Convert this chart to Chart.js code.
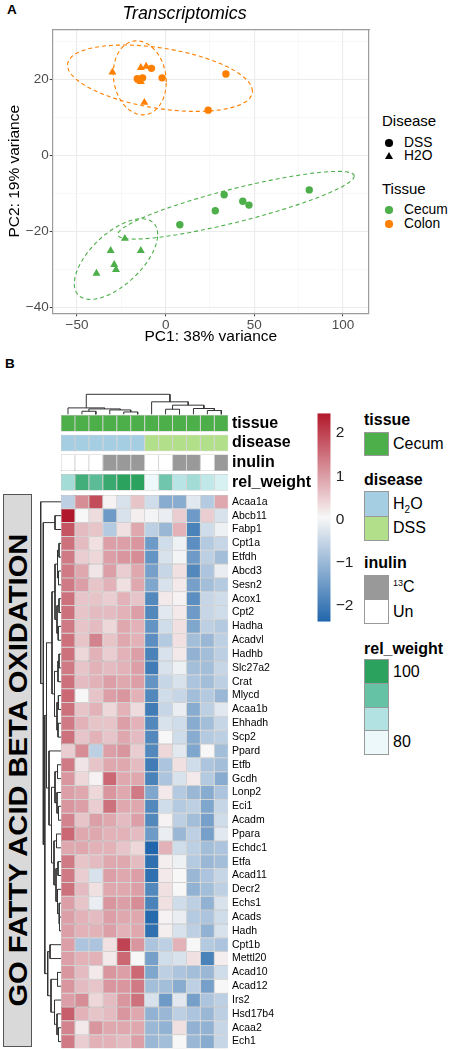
<!DOCTYPE html>
<html>
<head>
<meta charset="utf-8">
<script src="https://cdn.jsdelivr.net/npm/chart.js@4.4.1/dist/chart.umd.min.js"></script>
<style>
    body { margin: 0; background: #fff; font-family: "Liberation Sans", Arial, Helvetica, sans-serif; color: #000; }
    #page { position: relative; width: 449px; height: 1050px; overflow: hidden; }
    #page canvas, .abs { position: absolute; }
    .abs { line-height: 1; white-space: nowrap; }
    .tag { font-weight: bold; font-size: 13.5px; }
    .lgA-title { font-size: 15px; }
    .lgA-text { font-size: 13.8px; }
    .dot { width: 7.5px; height: 7.5px; border-radius: 50%; }
    .tri { width: 0; height: 0; border-left: 4.3px solid transparent; border-right: 4.3px solid transparent; border-bottom: 7.5px solid #000; }
    .lgB-title { font-size: 16px; font-weight: bold; }
    .lgB-text { font-size: 16px; }
    .swatch { border: 1px solid #999; box-sizing: border-box; }
    #go { left: 3px; top: 494px; width: 29px; height: 553px; background: #d9d9d9; border: 1px solid #555;
          box-sizing: border-box; display: flex; align-items: center; justify-content: center; }
    #go span { writing-mode: vertical-rl; transform: rotate(180deg) scaleY(1.12); font-weight: bold; font-size: 26px; white-space: nowrap; }
</style>
</head>
<body>
<div id="page">
    <div class="abs tag" style="left:7px;top:3px">A</div>
    <div class="abs tag" style="left:5px;top:357px">B</div>

    <!-- legend of panel A -->
    <div class="abs lgA-title" style="left:382px;top:113px">Disease</div>
    <div class="abs dot" style="left:385px;top:139px;background:#000"></div>
    <div class="abs lgA-text" style="left:404px;top:136px">DSS</div>
    <div class="abs tri" style="left:385px;top:152px"></div>
    <div class="abs lgA-text" style="left:404px;top:149px">H2O</div>
    <div class="abs lgA-title" style="left:382px;top:181px">Tissue</div>
    <div class="abs dot" style="left:385px;top:206px;background:#4DAF4A"></div>
    <div class="abs lgA-text" style="left:404px;top:203px">Cecum</div>
    <div class="abs dot" style="left:385px;top:220px;background:#FF7F00"></div>
    <div class="abs lgA-text" style="left:404px;top:217px">Colon</div>

    <!-- legends of panel B -->
    <div class="abs lgB-title" style="left:364px;top:412px">tissue</div>
    <div class="abs swatch" style="left:364px;top:432px;width:25px;height:24px;background:#4DAF4A"></div>
    <div class="abs lgB-text" style="left:393px;top:436px">Cecum</div>

    <div class="abs lgB-title" style="left:364px;top:472px">disease</div>
    <div class="abs swatch" style="left:364px;top:491px;width:25px;height:26px;background:#A6CEE3"></div>
    <div class="abs swatch" style="left:364px;top:516px;width:25px;height:25px;background:#B2DF8A"></div>
    <div class="abs lgB-text" style="left:393px;top:496px">H<sub style="font-size:10px">2</sub>O</div>
    <div class="abs lgB-text" style="left:393px;top:520px">DSS</div>

    <div class="abs lgB-title" style="left:364px;top:555px">inulin</div>
    <div class="abs swatch" style="left:364px;top:575px;width:25px;height:25px;background:#999999"></div>
    <div class="abs swatch" style="left:364px;top:599px;width:25px;height:25px;background:#FFFFFF"></div>
    <div class="abs lgB-text" style="left:393px;top:579px"><sup style="font-size:9px">13</sup>C</div>
    <div class="abs lgB-text" style="left:393px;top:604px">Un</div>

    <div class="abs lgB-title" style="left:364px;top:641px">rel_weight</div>
    <div id="relLegend"></div>
    <div class="abs lgB-text" style="left:393px;top:664px">100</div>
    <div class="abs lgB-text" style="left:393px;top:734px">80</div>

    <div id="go" class="abs"><span>GO FATTY ACID BETA OXIDATION</span></div>
</div>

<script>
// ---- panel A: PCA scores ----
const cecumDssPC1 = [8, 28, 33, 43.5, 47, 81]
const cecumDssPC2 = [-18.2, -14.5, -10.3, -12, -13, -9]
const cecumH2oPC1 = [-39, -31, -29, -28, -23, -14]
const cecumH2oPC2 = [-31, -25, -28.7, -30, -21.8, -25]
const colonDssPC1 = [-16, -13, -8, -2, 24, 34]
const colonDssPC2 = [20.3, 20.5, 23, 20.5, 12, 21.5]
const colonH2oPC1 = [-30, -15, -14, -14, -11, -12]
const colonH2oPC2 = [22, 19.8, 19.5, 23.2, 23.5, 14]

const pc1Ticks = [-50, -25, 0, 25, 50, 75, 100]
const pc1Major = [-50, 0, 50, 100]
const pc2Ticks = [-40, -30, -20, -10, 0, 10, 20, 30]
const pc2Major = [-40, -20, 0, 20]

// ---- panel B: heatmap ----
const genes = ["Acaa1a", "Abcb11", "Fabp1", "Cpt1a", "Etfdh", "Abcd3", "Sesn2", "Acox1", "Cpt2", "Hadha",
    "Acadvl", "Hadhb", "Slc27a2", "Crat", "Mlycd", "Acaa1b", "Ehhadh", "Scp2", "Ppard", "Etfb",
    "Gcdh", "Lonp2", "Eci1", "Acadm", "Ppara", "Echdc1", "Etfa", "Acad11", "Decr2", "Echs1",
    "Acads", "Hadh", "Cpt1b", "Mettl20", "Acad10", "Acad12", "Irs2", "Hsd17b4", "Acaa2", "Ech1"]

// row-scaled expression, one row per gene, 12 samples
const zScores = [
    [-0.6, 1.2, 1.9, 0.1, -0.3, 0.6, -0.4, -1.2, -1.2, -0.2, -0.7, 0.9],
    [2.46, 0.05, 0.35, -1.5, -0.3, 0.15, 0, -0.1, 0.5, -1.5, 0.5, -0.3],
    [1.8, 0.7, 0.6, -0.7, 0.3, 0.9, -0.6, -1.0, 0.8, -1.9, -0.4, -0.05],
    [1.5, 0.7, 0.3, 1.0, 1.0, 1.1, -1.5, -0.4, -0.05, -1.7, -0.7, -0.5],
    [1.4, 0.5, 0.4, 1.0, 1.1, 1.2, -1.6, -0.3, 0.0, -1.5, -0.6, -0.9],
    [1.4, 0.9, 0.25, 1.0, 0.5, 0.9, -1.4, -0.5, 0.3, -1.8, -0.8, -0.1],
    [1.4, 1.0, 0.6, 0.8, 0.3, 0.9, -1.3, -0.3, 0.2, -1.4, -0.9, -0.7],
    [1.5, 0.6, 0.6, 0.5, 0.8, 0.6, -1.8, 0.2, 0.1, -1.7, -0.5, -0.4],
    [1.5, 0.6, 0.7, 0.7, 0.8, 1.0, -1.8, -0.2, 0.2, -1.5, -0.5, -0.4],
    [1.4, 0.6, 0.7, 0.4, 0.9, 0.8, -1.6, -0.4, 0.3, -1.3, -0.6, -0.7],
    [1.5, 0.6, 1.3, 0.6, 0.9, 0.8, -1.7, -0.7, 0.3, -0.9, -1.0, -0.6],
    [1.5, 0.4, 0.8, 0.5, 0.8, 1.0, -1.9, -0.3, 0.2, -1.1, -0.9, -0.6],
    [1.4, 0.6, 0.8, 0.7, 0.8, 1.0, -2.0, -0.3, -0.05, -0.9, -0.9, -0.5],
    [1.5, 0.7, 0.8, 1.0, 0.9, 1.0, -1.6, -0.5, -0.3, -0.8, -0.9, -0.6],
    [1.6, 0.05, 0.6, 1.0, 1.1, 0.8, -1.8, -0.4, -0.5, -0.9, -0.7, -1.0],
    [1.5, 0.6, 0.8, 0.4, 0.8, 0.35, -2.0, -0.5, -0.1, -1.2, -0.6, -0.2],
    [1.4, 0.8, 0.6, 0.6, 1.0, 0.8, -1.8, -0.3, -0.4, -1.2, -0.9, -0.5],
    [1.5, 0.6, 0.8, 0.6, 0.9, 0.7, -1.8, 0.05, -0.4, -1.2, -0.7, -0.6],
    [0.5, 1.2, -0.6, 1.0, 1.1, 0.5, -1.8, 0.4, -0.2, -1.3, 0.05, -0.9],
    [1.4, 0.25, 0.6, 0.9, 0.9, 0.7, -2.0, -0.8, 0.3, -0.4, -0.8, -0.9],
    [1.1, 0.4, 0.1, 1.6, 0.9, 0.9, -1.9, -0.8, -0.3, 0.2, -0.7, -1.2],
    [1.0, 0.9, 0.4, 1.1, 0.9, 1.4, -1.3, 0.2, -0.7, -1.0, -1.2, -0.8],
    [1.1, 1.0, 0.5, 1.5, 0.9, 0.9, -1.8, -0.4, -0.7, -0.6, -1.3, -0.5],
    [1.3, 0.6, 1.0, 0.9, 0.7, 1.0, -1.8, 0.1, -0.6, -0.9, -1.4, -0.4],
    [1.6, 0.9, 0.9, 0.8, 0.8, 0.7, -1.5, -0.1, -1.0, -0.6, -1.4, -0.2],
    [0.9, 0.9, 0.8, 0.8, 0.6, 0.4, -2.36, 0.8, -0.4, -0.6, -0.9, -0.8],
    [1.4, 0.6, 0.7, 0.9, 0.9, 0.7, -2.2, 0.15, -0.05, -0.7, -1.0, -0.9],
    [1.4, 0.5, -0.3, 1.0, 0.9, 1.0, -2.2, 0.2, 0.05, -1.0, -0.8, -0.5],
    [1.5, 0.7, 0.3, 0.9, 0.9, 1.0, -1.8, 0.3, 0.05, -1.1, -0.9, -0.6],
    [1.0, 0.6, -0.1, 1.1, 1.0, 1.2, -1.9, 0.3, -0.4, -0.6, -1.1, -0.3],
    [1.0, 0.8, 0.7, 1.0, 0.9, 0.9, -2.3, 0.1, -0.1, -0.7, -0.8, -0.4],
    [1.0, 0.8, 0.8, 1.0, 0.8, 0.9, -2.2, 0.15, -0.3, -0.6, -1.1, -0.3],
    [1.0, -0.8, -0.8, 0.3, 2.0, 1.1, -0.8, -0.6, 0.8, 0.05, -0.7, -0.8],
    [1.0, 0.8, 0.8, 0.2, 1.6, 0.05, -1.4, -0.4, -0.3, 0.3, -1.9, 0.15],
    [1.1, 0.7, 0.2, 1.1, 1.0, 1.6, -1.3, -0.6, -0.8, -0.9, -1.0, -0.4],
    [1.1, 0.7, 0.6, 1.1, 1.1, 1.4, -0.9, -0.9, -1.2, -0.6, -1.4, 0.05],
    [1.0, 1.2, 0.4, 0.7, 1.1, 1.5, -0.3, -1.5, -0.2, -1.4, -0.8, -0.6],
    [1.7, 0.8, 0.6, 0.7, 1.1, 0.9, -1.1, -1.0, -0.6, -0.8, -1.0, -0.6],
    [1.3, 0.2, 1.1, 0.9, 0.9, 0.9, -1.0, -1.1, 0.3, -1.1, -1.1, -0.5],
    [1.4, 0.5, 0.8, 0.8, 0.7, 1.0, -1.0, -0.9, 0.05, -1.0, -1.2, -0.5],
]

// column annotations (12 samples)
const annRows = ["tissue", "disease", "inulin", "rel_weight"]
const sampleTissue = ["Cecum", "Cecum", "Cecum", "Cecum", "Cecum", "Cecum", "Cecum", "Cecum", "Cecum", "Cecum", "Cecum", "Cecum"]
const sampleDisease = ["H2O", "H2O", "H2O", "H2O", "H2O", "H2O", "DSS", "DSS", "DSS", "DSS", "DSS", "DSS"]
const sampleInulin = ["Un", "Un", "Un", "13C", "13C", "13C", "Un", "Un", "13C", "13C", "Un", "13C"]
const sampleRelWeight = [88, 97.5, 94.5, 98.5, 100, 100, 80, 92.5, 86, 88, 85, 82.5]
const relWeightRange = [80, 100]
const zTicks = [-2, -1, 0, 1, 2]

// dendrograms: [height, left, right], leaves are indices
const colTree = [19.7,
    [6.3, 0, [5.3, [3.0, 1, 2], [4.3, 3, [2.3, 4, 5]]]],
    [12.3, 6, [9, [5, 7, 8], [5.7, 9, [3.7, 10, 11]]]]]
const rowTree = [20.3, 0, [17.7, [6, 1, 2], [16.2,
    [14.5,
        [9, [6, [3.5, [2, 3, 4], [2.5, 5, 6]], [4, [2, 7, 8], [2.8, 9, 10]]],
            [6.5, [3, [2, 11, 12], 13], [4, [2.6, 14, 15], [3, 16, 17]]]],
        [12, 18, [9.5, [6, [3.5, 19, 20], [4, 21, [2.5, 22, 23]]],
            [7, [4.5, 24, 25], [5, [3, 26, 27], [3.5, 28, [2, 29, [1.5, 30, 31]]]]]]]],
    [13.3, [11, 32, 33], [10, [3.5, 34, 35], [6.5, 36, [4, 37, [2.5, 38, 39]]]]]]]]

const ORANGE = "#FF7F00"
const GREEN = "#4DAF4A"
const zColors = ["#2166AC", "#F7F7F7", "#B2182B"]
const relColors = ["#EDF8FB", "#B2E2E2", "#66C2A4", "#2CA25F"]
const tissueColors = { Cecum: GREEN, Colon: ORANGE }
const diseaseColors = { H2O: "#A6CEE3", DSS: "#B2DF8A" }
const inulinColors = { "13C": "#999999", Un: "#FFFFFF" }
const FONT = '"Liberation Sans", Arial, Helvetica, sans-serif'

Chart.defaults.font.family = FONT
Chart.defaults.color = "#000"
Chart.defaults.animation = false
Chart.defaults.responsive = false
Chart.defaults.devicePixelRatio = 1
Chart.defaults.plugins.legend.display = false
Chart.defaults.plugins.tooltip.enabled = false

function canvasAt(left, top, width, height) {
    const c = document.createElement("canvas")
    c.width = width
    c.height = height
    c.style.left = left + "px"
    c.style.top = top + "px"
    c.style.width = width + "px"
    c.style.height = height + "px"
    document.getElementById("page").appendChild(c)
    return c
}

// fixed-width side axis whose labels may overhang the chart area
function sideAxis(width) {
    return s => {
        s.width = width
        s.paddingTop = 0
        s.paddingBottom = 0
    }
}

function minus(v) {
    return v < 0 ? "\u2212" + Math.abs(v) : String(v)
}

function sum(a) {
    return a.reduce((s, v) => s + v, 0)
}

function hexRgb(h) {
    return [1, 3, 5].map(i => parseInt(h.substr(i, 2), 16))
}

function ramp(stops, t) {
    t = Math.max(0, Math.min(1, t))
    const s = t * (stops.length - 1)
    const i = Math.min(Math.floor(s), stops.length - 2)
    const f = s - i
    const a = hexRgb(stops[i]), b = hexRgb(stops[i + 1])
    return "rgb(" + a.map((v, k) => Math.round(v + (b[k] - v) * f)).join(",") + ")"
}

// 95% t-ellipse like ggplot2 stat_ellipse (robust covariance from MASS::cov.trob)
function ellipse(xs, ys) {
    const n = xs.length, nu = 5
    let w = xs.map(() => 1)
    let cx = sum(xs) / n, cy = sum(ys) / n
    let dx = [], dy = []
    for (let it = 0; it < 25; it++) {
        const w0 = w.slice()
        dx = xs.map(v => v - cx)
        dy = ys.map(v => v - cy)
        const sw = sum(w)
        let sxx = 0, sxy = 0, syy = 0
        for (let i = 0; i < n; i++) {
            sxx += w[i] * dx[i] * dx[i] / sw
            sxy += w[i] * dx[i] * dy[i] / sw
            syy += w[i] * dy[i] * dy[i] / sw
        }
        const det = sxx * syy - sxy * sxy
        w = dx.map((_, i) => (nu + 2) / (nu + (syy * dx[i] * dx[i] - 2 * sxy * dx[i] * dy[i] + sxx * dy[i] * dy[i]) / det))
        const sw2 = sum(w)
        cx = sum(xs.map((v, i) => v * w[i])) / sw2
        cy = sum(ys.map((v, i) => v * w[i])) / sw2
        if (w.every((v, i) => Math.abs(v - w0[i]) < 0.01)) break
    }
    let sxx = 0, sxy = 0, syy = 0
    for (let i = 0; i < n; i++) {
        sxx += w[i] * dx[i] * dx[i] / n
        sxy += w[i] * dx[i] * dy[i] / n
        syy += w[i] * dy[i] * dy[i] / n
    }
    const a = Math.sqrt(sxx), b = sxy / a, c = Math.sqrt(syy - b * b)
    const d = n - 1
    const r = Math.sqrt(2 * (d / 2) * (Math.pow(0.05, -2 / d) - 1))
    const pts = []
    for (let k = 0; k <= 51; k++) {
        const t = k * 2 * Math.PI / 51
        pts.push({ x: cx + r * a * Math.cos(t), y: cy + r * (b * Math.cos(t) + c * Math.sin(t)) })
    }
    return pts
}

function pointSet(xs, ys, color, style) {
    return {
        data: xs.map((x, i) => ({ x: x, y: ys[i] })),
        backgroundColor: color, borderColor: color, borderWidth: 0,
        pointStyle: style, pointRadius: style === "triangle" ? 4.6 : 3.7,
    }
}

function ellipseSet(xs, ys, color) {
    return {
        data: ellipse(xs, ys), showLine: true, borderColor: color, borderWidth: 1.1,
        borderDash: [4, 3], pointRadius: 0, fill: false, tension: 0, clip: false,
    }
}

function pcaGrid(majors) {
    const isMajor = c => c.tick && majors.includes(c.tick.value)
    return {
        color: c => isMajor(c) ? "#EBEBEB" : "#F3F3F3",
        lineWidth: c => isMajor(c) ? 1.1 : 0.6,
        tickColor: c => isMajor(c) ? "#333" : "rgba(0,0,0,0)",
        tickLength: 3, tickWidth: 1,
    }
}

// ---- panel A chart ----
new Chart(canvasAt(0, 0, 449, 350), {
    type: "scatter",
    data: {
        datasets: [
            ellipseSet(colonDssPC1, colonDssPC2, ORANGE),
            ellipseSet(colonH2oPC1, colonH2oPC2, ORANGE),
            ellipseSet(cecumDssPC1, cecumDssPC2, GREEN),
            ellipseSet(cecumH2oPC1, cecumH2oPC2, GREEN),
            pointSet(colonDssPC1, colonDssPC2, ORANGE, "circle"),
            pointSet(colonH2oPC1, colonH2oPC2, ORANGE, "triangle"),
            pointSet(cecumDssPC1, cecumDssPC2, GREEN, "circle"),
            pointSet(cecumH2oPC1, cecumH2oPC2, GREEN, "triangle"),
        ]
    },
    options: {
        layout: { padding: { left: 0, right: 80, top: 0, bottom: 0 } },
        plugins: {
            title: {
                display: true, text: "Transcriptomics", color: "#000",
                font: { size: 17.8, style: "italic", weight: "normal" },
                padding: { top: 3.3, bottom: 4.6 },
            }
        },
        scales: {
            x: {
                min: -63.7, max: 114.7,
                afterFit: s => { s.height = 36.7 },
                afterBuildTicks: s => { s.ticks = pc1Ticks.map(v => ({ value: v })) },
                ticks: { callback: v => pc1Major.includes(v) ? minus(v) : "", font: { size: 13.5 }, color: "#4D4D4D", padding: 1, maxRotation: 0, autoSkip: false },
                grid: pcaGrid(pc1Major),
                border: { color: "#9C9C9C", width: 1.2 },
                title: { display: true, text: "PC1: 38% variance", font: { size: 15.5 }, color: "#000", padding: { top: 0, bottom: 3.7 } },
            },
            y: {
                min: -41.5, max: 33.3,
                afterFit: s => { s.width = 52.7 },
                afterBuildTicks: s => { s.ticks = pc2Ticks.map(v => ({ value: v })) },
                ticks: { callback: v => pc2Major.includes(v) ? minus(v) : "", font: { size: 13.5 }, color: "#4D4D4D", padding: 1, autoSkip: false },
                grid: pcaGrid(pc2Major),
                border: { color: "#9C9C9C", width: 1.2 },
                title: { display: true, text: "PC2: 19% variance", font: { size: 15.5 }, color: "#000", padding: { top: 5.2, bottom: 0 } },
            },
            x2: {
                position: "top", min: 0, max: 1,
                ticks: { display: false }, grid: { display: false, drawTicks: false },
                border: { color: "#9C9C9C", width: 1.2 },
                afterFit: s => { s.height = 0 },
            },
            y2: {
                position: "right", min: 0, max: 1,
                ticks: { display: false }, grid: { display: false, drawTicks: false },
                border: { color: "#9C9C9C", width: 1.2 },
                afterFit: s => { s.width = 0 },
            },
        }
    }
})

// ---- panel B ----
const allZ = zScores.flat()
const zMin = Math.min(...allZ)
const zMax = Math.max(...allZ)
const zColor = v => ramp(zColors, (v - zMin) / (zMax - zMin))
const relColor = v => ramp(relColors, (v - relWeightRange[0]) / (relWeightRange[1] - relWeightRange[0]))

const cellStyle = {
    borderColor: "#999999", borderWidth: 0.5, borderSkipped: false, inflateAmount: 0,
    barPercentage: 1, categoryPercentage: 1,
}

// heatmap body
new Chart(canvasAt(61, 494, 239, 556), {
    type: "bar",
    data: {
        labels: genes,
        datasets: sampleTissue.map((_, j) => Object.assign({
            data: genes.map(() => 1),
            backgroundColor: genes.map((g, i) => zColor(zScores[i][j])),
        }, cellStyle))
    },
    options: {
        indexAxis: "y",
        layout: { padding: { top: 0.9, bottom: 1.5, left: 0, right: 0 } },
        scales: {
            x: { stacked: true, min: 0, max: 12, display: false },
            y: {
                stacked: true, position: "right",
                afterFit: sideAxis(71.7),
                grid: { display: false, drawTicks: false }, border: { display: false },
                ticks: { autoSkip: false, padding: 3.7, font: { size: 10.5 }, color: "#000" },
            }
        }
    }
})

// annotation rows
const annColors = [
    sampleTissue.map(v => tissueColors[v]),
    sampleDisease.map(v => diseaseColors[v]),
    sampleInulin.map(v => inulinColors[v]),
    sampleRelWeight.map(relColor),
]
new Chart(canvasAt(61, 410, 260, 84), {
    type: "bar",
    data: {
        labels: annRows,
        datasets: sampleTissue.map((_, j) => Object.assign({
            data: annRows.map(() => 1),
            backgroundColor: annRows.map((r, i) => annColors[i][j]),
        }, cellStyle, { barPercentage: 0.84 }))
    },
    options: {
        indexAxis: "y",
        layout: { padding: { top: 3.4, bottom: 1.8, left: 0, right: 0 } },
        scales: {
            x: { stacked: true, min: 0, max: 12, display: false },
            y: {
                stacked: true, position: "right",
                afterFit: sideAxis(92.7),
                grid: { display: false, drawTicks: false }, border: { display: false },
                ticks: { autoSkip: false, padding: 3.7, font: { size: 16, weight: "bold" }, color: "#000" },
            }
        }
    }
})

// dendrogram segments, one dataset per merge
function dendroSets(tree, horizontal) {
    const sets = []
    function walk(nd) {
        if (typeof nd === "number") return { c: nd + 0.5, h: 0 }
        const a = walk(nd[1]), b = walk(nd[2])
        const h = nd[0]
        const pts = [[a.c, a.h], [a.c, h], [b.c, h], [b.c, b.h]]
        sets.push({
            data: pts.map(([c, v]) => horizontal ? { x: c, y: v } : { x: v, y: c }),
            showLine: true, pointRadius: 0, borderColor: "#333", borderWidth: 1, tension: 0, clip: false,
        })
        return { c: (a.c + b.c) / 2, h: h }
    }
    walk(tree)
    return sets
}

new Chart(canvasAt(61, 390, 168, 26), {
    type: "scatter",
    data: { datasets: dendroSets(colTree, true) },
    options: {
        layout: { padding: { top: 4.3, bottom: 1.7, left: 0, right: 0.7 } },
        scales: {
            x: { min: 0, max: 12, display: false },
            y: { min: 0, max: colTree[0], display: false },
        }
    }
})

new Chart(canvasAt(36, 494, 26, 556), {
    type: "scatter",
    data: { datasets: dendroSets(rowTree, false) },
    options: {
        layout: { padding: { top: 0.9, bottom: 1.5, left: 4.7, right: 1 } },
        scales: {
            x: { min: 0, max: rowTree[0], reverse: true, display: false },
            y: { min: 0, max: genes.length, reverse: true, display: false },
        }
    }
})

// colour key
function keyGradient(ctx) {
    const chart = ctx.chart
    if (!chart.chartArea) return null
    const ys = chart.scales.y
    const g = chart.ctx.createLinearGradient(0, ys.getPixelForValue(zMin), 0, ys.getPixelForValue(zMax))
    zColors.forEach((c, i) => g.addColorStop(i / (zColors.length - 1), c))
    return g
}

new Chart(canvasAt(317, 410, 40, 215), {
    type: "bar",
    data: {
        labels: ["z"],
        datasets: [{ data: [[zMin, zMax]], backgroundColor: keyGradient, borderWidth: 0, inflateAmount: 0, barPercentage: 1, categoryPercentage: 1 }]
    },
    options: {
        layout: { padding: { top: 3.3, bottom: 3.3, left: 0.3, right: 0 } },
        scales: {
            x: { display: false },
            y: {
                min: zMin, max: zMax, position: "right",
                afterFit: sideAxis(26.3),
                afterBuildTicks: s => { s.ticks = zTicks.map(v => ({ value: v })) },
                ticks: { callback: minus, font: { size: 15.5 }, color: "#222", padding: 5 },
                grid: { display: false, drawTicks: false }, border: { display: false },
            }
        }
    }
})

// rel_weight legend swatches
const relLegend = document.getElementById("relLegend")
;[100, 93.33, 86.67, 80].forEach((v, i) => {
    const d = document.createElement("div")
    d.className = "abs swatch"
    d.style.cssText = "left:364px;width:25px;height:24.7px;top:" + (659.3 + i * 23.7) + "px;background:" + relColor(v)
    relLegend.appendChild(d)
})
</script>
</body>
</html>
